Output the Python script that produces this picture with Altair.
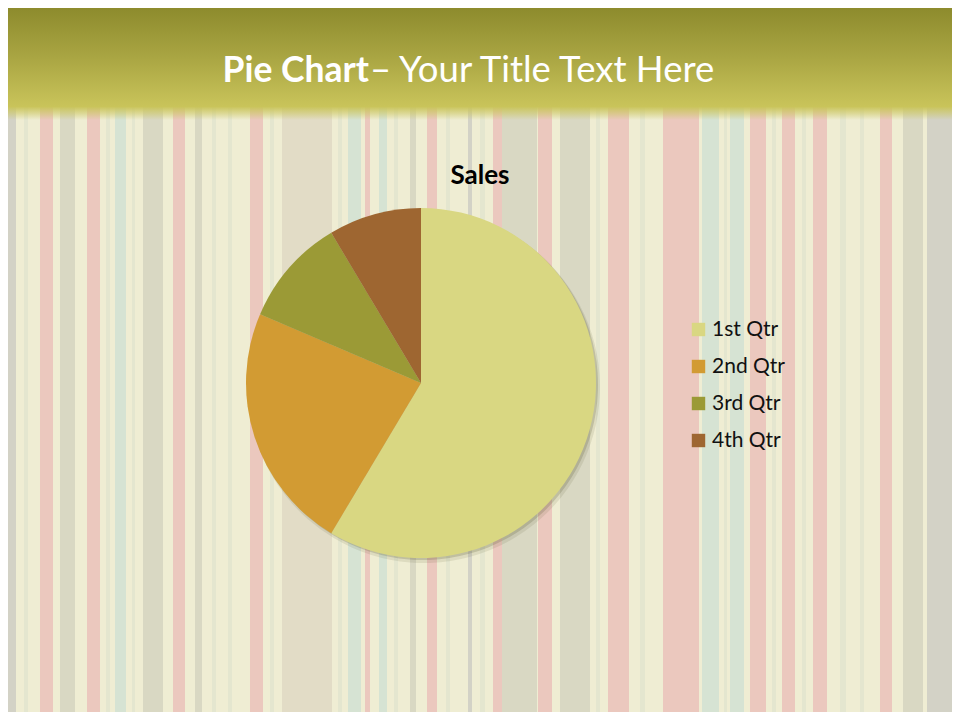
import altair as alt
import pandas as pd

# ---- data ----
QUARTERS = ["1st Qtr", "2nd Qtr", "3rd Qtr", "4th Qtr"]
SALES = [8.2, 3.2, 1.4, 1.2]
ORDER = [1, 2, 3, 4]
COLORS = ["#d9d782", "#d29b33", "#9b9a36", "#9e6631"]
TITLE_BOLD = ["Pie Chart"]
TITLE_REST = ["\u2013 Your Title Text Here"]
CHART_TITLE = ["Sales"]

W, H = 944, 704
OFF = 8  # page margin

df = pd.DataFrame({"quarter": QUARTERS, "sales": SALES, "order": ORDER})

# ---- decorative striped background (style only) ----
BASE = "#efedd3"
PINK = "#ebc8be"
GREYG = "#d9d8c3"
TEAL = "#d6e3d3"
GREY = "#d3d2c6"
BEIGE = "#e2dcc6"
FAINT = "#e4e6cf"
STRIPES = [
    (0, 16, GREY), (24, 28, FAINT), (40, 53, PINK), (60, 75, GREYG), (87, 100, PINK),
    (106, 110, FAINT), (115, 126, TEAL), (132, 135, FAINT), (143, 163, GREYG),
    (173, 185, PINK), (195, 202, GREYG), (212, 216, FAINT), (228, 232, FAINT),
    (250, 263, PINK), (270, 274, FAINT), (282, 332, BEIGE), (338, 342, FAINT),
    (348, 361, TEAL), (365, 370, PINK), (379, 387, TEAL), (394, 398, FAINT),
    (410, 416, GREYG), (427, 437, PINK), (446, 450, FAINT), (468, 472, GREY),
    (480, 485, FAINT), (493, 502, PINK), (502, 537, GREYG), (538, 552, PINK),
    (560, 590, GREYG), (596, 600, FAINT), (608, 629, PINK), (640, 645, FAINT),
    (663, 699, PINK), (702, 719, TEAL), (724, 727, FAINT), (730, 744, TEAL),
    (750, 766, PINK), (772, 776, FAINT), (782, 795, PINK), (802, 806, FAINT),
    (813, 827, PINK), (840, 846, FAINT), (860, 864, FAINT), (880, 892, PINK),
    (903, 923, GREYG), (927, 960, GREY),
]


def _off(x):
    return min(max((x - OFF) / W, 0.0), 1.0)


stops = [{"offset": 0, "color": BASE}]
for a, b, c in STRIPES:
    oa, ob = _off(a), _off(b)
    stops += [{"offset": oa, "color": BASE}, {"offset": oa, "color": c},
              {"offset": ob, "color": c}, {"offset": ob, "color": BASE}]
stops.append({"offset": 1, "color": BASE})
bg_grad = {"gradient": "linear", "x1": 0, "y1": 0, "x2": 1, "y2": 0, "stops": stops}

header_grad = {
    "gradient": "linear", "x1": 0, "y1": 0, "x2": 0, "y2": 1,
    "stops": [
        {"offset": 0, "color": "#8d8b2d"},
        {"offset": 0.45, "color": "#aaa643"},
        {"offset": 0.88, "color": "#c9c45a"},
        {"offset": 0.94, "color": "rgba(203,198,96,0.55)"},
        {"offset": 1, "color": "rgba(203,198,96,0)"},
    ],
}

one = pd.DataFrame({"k": [0]})

background = alt.Chart(one).mark_rect(color=bg_grad).encode(
    x=alt.value(0), x2=alt.value(W), y=alt.value(0), y2=alt.value(H)
)
header = alt.Chart(one).mark_rect(color=header_grad).encode(
    x=alt.value(0), x2=alt.value(W), y=alt.value(0), y2=alt.value(112)
)

title_bold = alt.Chart(pd.DataFrame({"t": TITLE_BOLD})).mark_text(
    font="Lato", fontSize=35.5, fontWeight="bold", color="white",
    align="right", baseline="alphabetic"
).encode(text="t:N", x=alt.value(369 - OFF), y=alt.value(82 - OFF))

title_rest = alt.Chart(pd.DataFrame({"t": TITLE_REST})).mark_text(
    font="Lato", fontSize=36.5, color="white",
    align="left", baseline="alphabetic"
).encode(text="t:N", x=alt.value(370 - OFF), y=alt.value(82 - OFF))

chart_title = alt.Chart(pd.DataFrame({"t": CHART_TITLE})).mark_text(
    font="Lato", fontSize=26, fontWeight="bold", color="black",
    align="center", baseline="alphabetic"
).encode(text="t:N", x=alt.value(480 - OFF), y=alt.value(184 - OFF))

CX, CY, R = 421 - OFF, 383 - OFF, 175

shadow1 = alt.Chart(df).mark_arc(radius=R + 1, color="#5d5a30", opacity=0.12).encode(
    theta=alt.Theta("sales:Q", stack=True), order=alt.Order("order:Q"),
    x=alt.value(CX + 3), y=alt.value(CY + 4)
)
shadow2 = alt.Chart(df).mark_arc(radius=R, color="#5d5a30", opacity=0.22).encode(
    theta=alt.Theta("sales:Q", stack=True), order=alt.Order("order:Q"),
    x=alt.value(CX + 2), y=alt.value(CY + 2)
)

pie = alt.Chart(df).mark_arc(radius=R, stroke=None).encode(
    theta=alt.Theta("sales:Q", stack=True),
    order=alt.Order("order:Q"),
    color=alt.Color(
        "quarter:N",
        scale=alt.Scale(domain=QUARTERS, range=COLORS),
        sort=QUARTERS,
        legend=alt.Legend(
            title=None, orient="none", legendX=688 - OFF, legendY=319 - OFF,
            symbolType="square", symbolSize=180, symbolStrokeWidth=0,
            labelFont="Lato", labelFontSize=21, labelColor="#111111",
            labelOffset=3, rowPadding=15, padding=0, symbolOffset=0,
        ),
    ),
    x=alt.value(CX), y=alt.value(CY),
)

chart = alt.layer(
    background, header, title_bold, title_rest, chart_title, shadow1, shadow2, pie
).properties(
    width=W, height=H, padding=0,
    autosize=alt.AutoSizeParams(type="fit", contains="padding"),
).configure_view(stroke=None)

chart.save("out.html", embed_options={"renderer": "svg", "actions": False})
